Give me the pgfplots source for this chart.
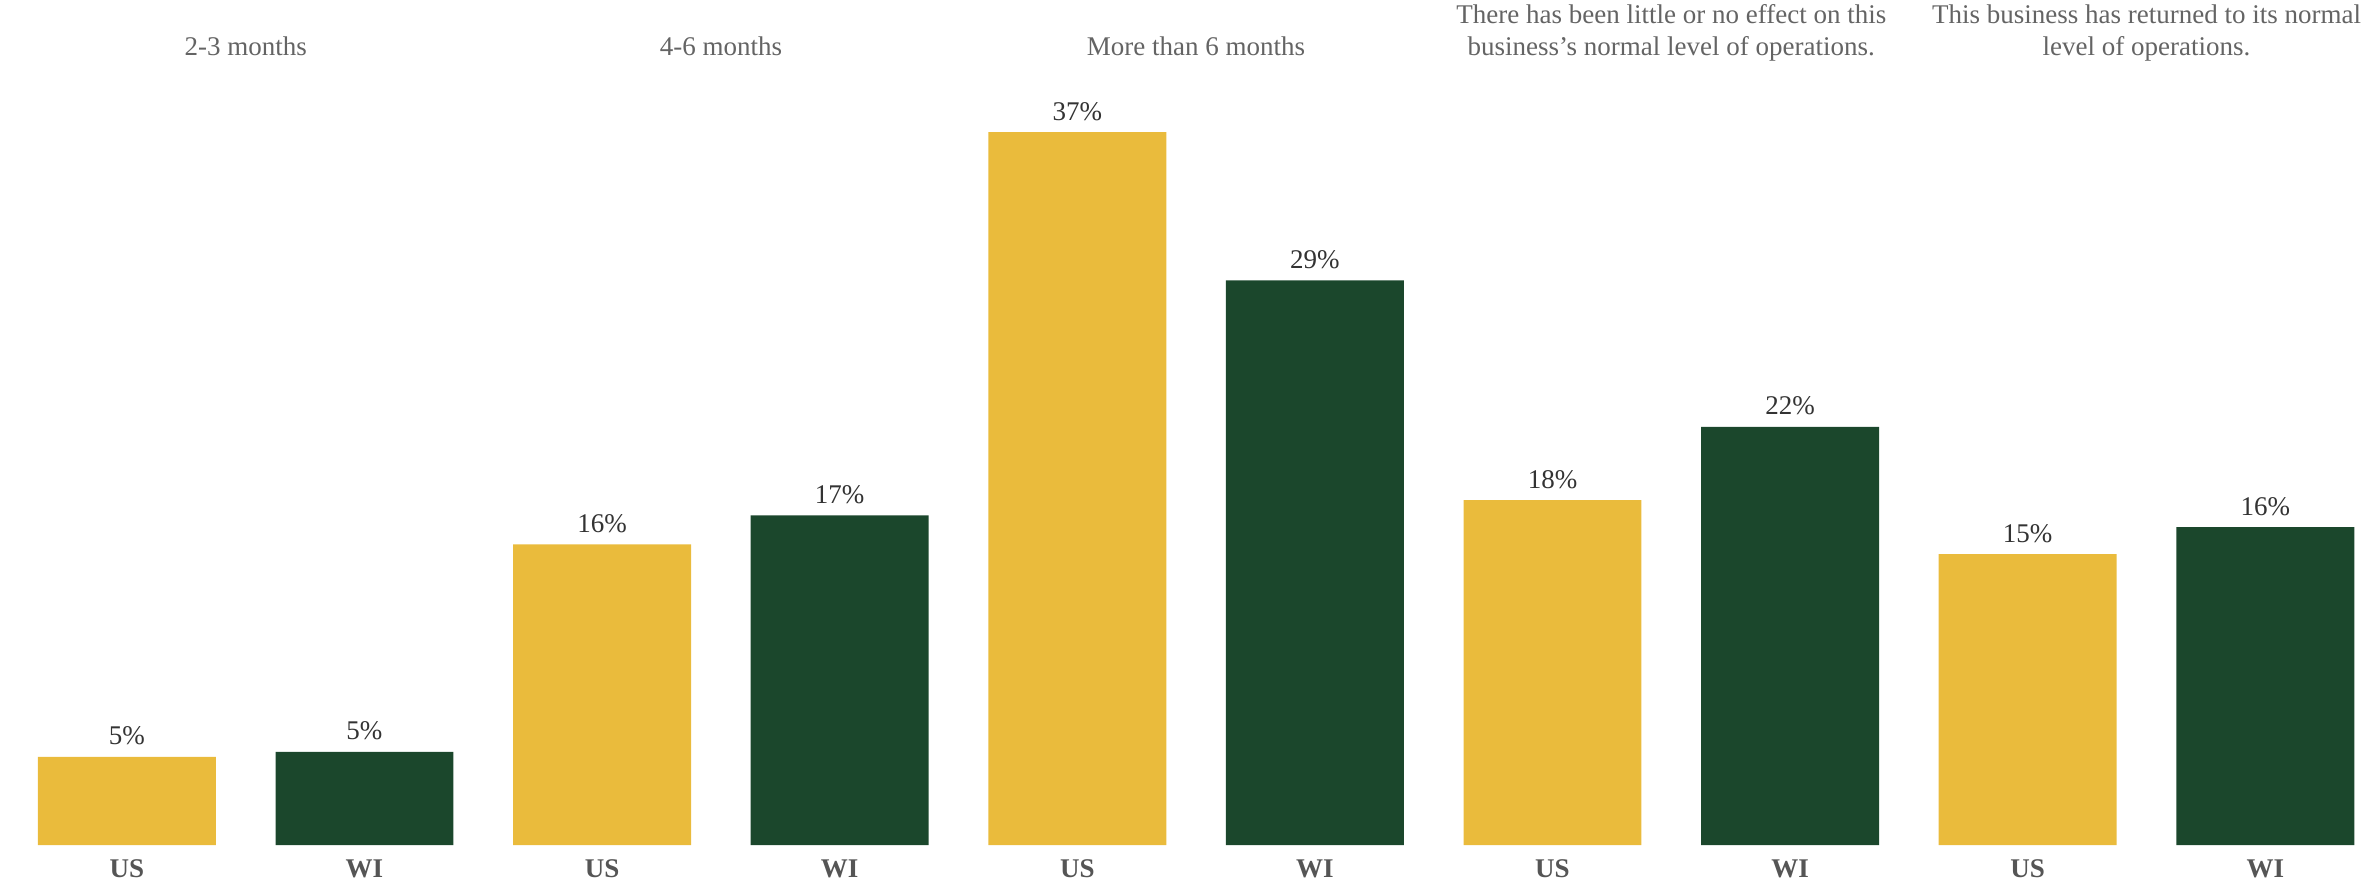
\documentclass[border=0pt]{standalone}
\usepackage{pgfplots}
\pgfplotsset{compat=1.18}
\usepackage{fontspec}
\setmainfont{Liberation Serif}
\definecolor{usyellow}{RGB}{234,187,60}
\definecolor{wigreen}{RGB}{27,71,44}
\definecolor{titlegray}{RGB}{100,100,100}
\definecolor{labgray}{RGB}{51,51,51}
\definecolor{tickgray}{RGB}{85,85,85}
\begin{document}
\begin{tikzpicture}
\useasboundingbox (0,0) rectangle (1183pt,442.5pt);
\begin{axis}[
  at={(0pt,20pt)}, anchor=south west,
  x=118.8pt, y=9.635pt,
  scale only axis,
  xmin=-0.534, xmax=9.423,
  ymin=0, ymax=43.85,
  axis line style={draw=none},
  tick style={draw=none},
  major tick length=0pt,
  ytick=\empty,
  xtick={0,1,2,3,4,5,6,7,8,9},
  xticklabels={US,WI,US,WI,US,WI,US,WI,US,WI},
  xticklabel style={font=\bfseries\fontsize{13.5}{15}\selectfont, text=tickgray, anchor=base, yshift=-16pt},
  clip=false,
  ybar, bar width=0.749, bar shift=0pt,
  point meta=explicit symbolic,
  nodes near coords={\pgfplotspointmeta\%},
  every node near coord/.append style={font=\fontsize{13.5}{15}\selectfont, text=labgray, anchor=base, yshift=6pt},
]
\addplot[fill=usyellow, draw=none] table[x=x, y=y, meta=l] {
x y l
0 4.57 5
2 15.6 16
4 37.0 37
6 17.9 18
8 15.1 15
};
\addplot[fill=wigreen, draw=none] table[x=x, y=y, meta=l] {
x y l
1 4.83 5
3 17.1 17
5 29.3 29
7 21.7 22
9 16.5 16
};
\tikzset{ttl/.style={font=\fontsize{13.5}{16}\selectfont, text=titlegray, align=center, anchor=base, inner sep=0pt}}
\node[ttl] at (axis cs:0.5,43.85) [yshift=-27.5pt] {2-3 months};
\node[ttl] at (axis cs:2.5,43.85) [yshift=-27.5pt] {4-6 months};
\node[ttl] at (axis cs:4.5,43.85) [yshift=-27.5pt] {More than 6 months};
\node[ttl] at (axis cs:6.5,43.85) [yshift=-27.5pt] {There has been little or no effect on this\\business's normal level of operations.};
\node[ttl] at (axis cs:8.5,43.85) [yshift=-27.5pt] {This business has returned to its normal\\level of operations.};
\end{axis}
\end{tikzpicture}
\end{document}
